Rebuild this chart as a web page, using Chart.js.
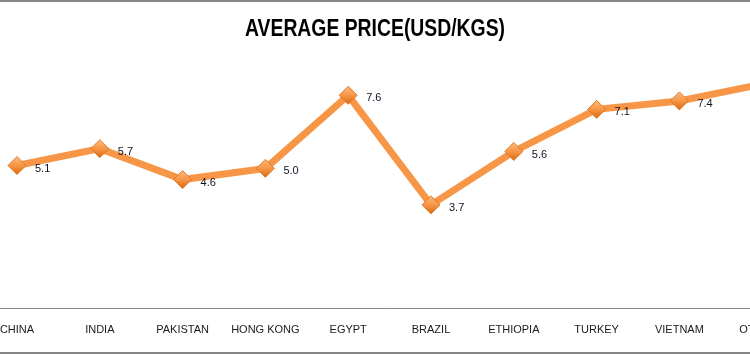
<!DOCTYPE html>
<html>
<head>
<meta charset="utf-8">
<script src="https://cdn.jsdelivr.net/npm/chart.js@4"></script>
<style>
  html, body { margin: 0; padding: 0; background: #fff; overflow: hidden; width: 750px; height: 354px; }
  #frame { position: absolute; left: 0; top: 0; width: 750px; height: 354px; border-top: 2px solid #868686; border-bottom: 2px solid #868686; box-sizing: border-box; }
  #wrap { position: absolute; left: -40px; top: 0; width: 870px; height: 354px; }
</style>
</head>
<body>
<div id="frame"></div>
<div id="wrap"><canvas id="c" width="870" height="354"></canvas></div>
<script>
const categories = ['CHINA', 'INDIA', 'PAKISTAN', 'HONG KONG', 'EGYPT', 'BRAZIL', 'ETHIOPIA', 'TURKEY', 'VIETNAM', 'OTHERS'];
const prices = [5.1, 5.7, 4.6, 5.0, 7.6, 3.7, 5.6, 7.1, 7.4, 8.0];
const chartTitle = 'AVERAGE PRICE(USD/KGS)';

const labelPlugin = {
  id: 'valueLabels',
  afterDatasetsDraw(chart) {
    const ctx = chart.ctx;
    const meta = chart.getDatasetMeta(0);
    ctx.save();
    ctx.font = '11px "Liberation Sans", Arial, sans-serif';
    ctx.fillStyle = '#111122';
    ctx.textAlign = 'left';
    ctx.textBaseline = 'middle';
    meta.data.forEach((pt, i) => {
      ctx.fillText(prices[i].toFixed(1), pt.x + 18, pt.y + 3);
    });
    ctx.restore();
  }
};

const titlePlugin = {
  id: 'condensedTitle',
  afterDraw(chart) {
    const ctx = chart.ctx;
    ctx.save();
    ctx.font = 'bold 24px "Liberation Sans", Arial, sans-serif';
    ctx.fillStyle = '#000';
    ctx.textBaseline = 'middle';
    ctx.textAlign = 'center';
    const w = ctx.measureText(chartTitle).width;
    const sx = 260 / w;
    const cx = 415; // page x 375 (canvas offset by 40)
    ctx.translate(cx, 29);
    ctx.scale(sx, 1);
    ctx.fillText(chartTitle, 0, 0);
    ctx.restore();
  }
};

function diamondFill(context) {
  const chart = context.chart;
  const ys = chart.scales && chart.scales.y;
  if (!ys || !context.parsed) return '#F79646';
  const y = ys.getPixelForValue(context.parsed.y);
  if (!isFinite(y)) return '#F79646';
  const g = chart.ctx.createLinearGradient(0, y - 9, 0, y + 9);
  g.addColorStop(0, '#FDBB7E');
  g.addColorStop(0.5, '#F79646');
  g.addColorStop(1, '#D9690E');
  return g;
}

new Chart(document.getElementById('c'), {
  type: 'line',
  data: {
    labels: categories,
    datasets: [{
      data: prices,
      borderColor: '#F79646',
      borderWidth: 7,
      tension: 0,
      pointStyle: 'rectRot',
      pointRadius: 9,
      pointHoverRadius: 9,
      pointBackgroundColor: diamondFill,
      pointBorderColor: '#E07A2A',
      pointBorderWidth: 1
    }]
  },
  options: {
    responsive: false,
    animation: false,
    layout: { padding: { left: 15.6, right: 26.4, top: 56, bottom: 2 } },
    plugins: {
      legend: { display: false },
      tooltip: { enabled: false },
      title: { display: false }
    },
    scales: {
      x: {
        offset: true,
        grid: { display: false, drawTicks: false },
        border: { display: true, color: '#868686', width: 1 },
        ticks: {
          color: '#1a1a1a',
          padding: 15,
          maxRotation: 0,
          autoSkip: false,
          font: { family: '"Liberation Sans", Arial, sans-serif', size: 11 }
        }
      },
      y: {
        display: false,
        min: 0,
        max: 9
      }
    }
  },
  plugins: [labelPlugin, titlePlugin]
});
</script>
</body>
</html>
